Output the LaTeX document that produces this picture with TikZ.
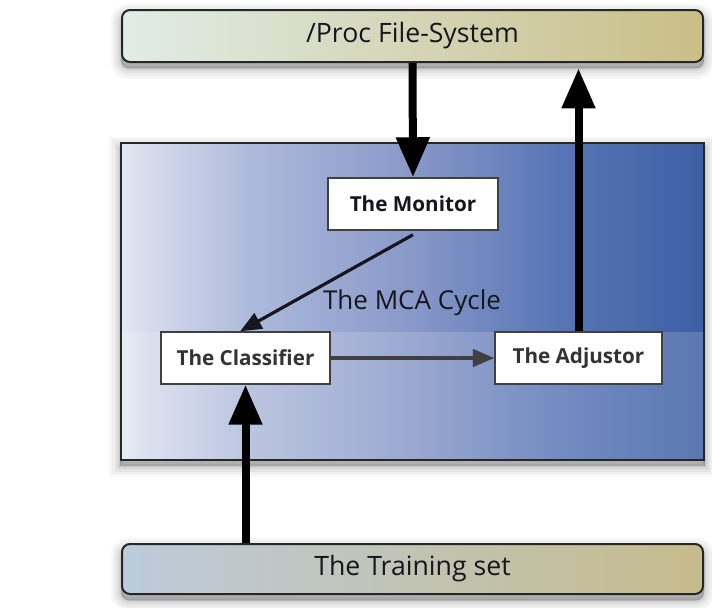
\documentclass[tikz,border=0pt]{standalone}
\usepackage{fontspec}
\setmainfont{Open Sans}
\usetikzlibrary{arrows.meta}
\pgfdeclarelayer{bg}
\pgfdeclarelayer{shadow}
\pgfsetlayers{bg,shadow,main}
\definecolor{ink}{HTML}{16171E}
\definecolor{procL}{HTML}{E0ECE6}
\definecolor{procM}{HTML}{CEC8B0}
\definecolor{procR}{HTML}{C9BE86}
\definecolor{trainL}{HTML}{BCCBDB}
\definecolor{trainM}{HTML}{C2BFB6}
\definecolor{trainR}{HTML}{C6BB8B}
\definecolor{mA}{HTML}{E4E8F2}
\definecolor{mB}{HTML}{D6DCEC}
\definecolor{mC}{HTML}{AEBADB}
\definecolor{mD}{HTML}{8898C8}
\definecolor{mE}{HTML}{5876B6}
\definecolor{mF}{HTML}{3D5FA4}
\pgfdeclarehorizontalshading{mcashade}{100bp}{
  color(0bp)=(mA); color(25bp)=(mA); color(27bp)=(mB);
  color(36bp)=(mC); color(50bp)=(mD); color(62.5bp)=(mE);
  color(75bp)=(mF); color(100bp)=(mF)}
\begin{document}
\begin{tikzpicture}[x=0.75pt,y=-0.75pt,
  bar/.style={draw=black!85, line width=1.5pt, rounded corners=6pt,
    minimum width=435.75pt, inner sep=0pt, text=ink,
    font=\fontsize{20}{24}\selectfont},
  inbox/.style={draw=black!75, fill=white, line width=1.1pt,
    minimum height=39pt, inner sep=0pt,
    font=\bfseries\fontsize{15.5}{18}\selectfont},
  bigarrow/.style={line width=6pt, draw=black,
    -{Triangle[length=30pt,width=24pt]}},
  thinarrow/.style={line width=2.4pt,
    -{Triangle[length=16pt,width=13pt]}},
  softshadow/.style={draw=black, fill=black, draw opacity=#1, fill opacity=#1}
]
\useasboundingbox (0,0) rectangle (712,607);
\begin{pgfonlayer}{bg}
  \fill[white] (0,0) rectangle (712,607);
\end{pgfonlayer}

% outer bars and the cycle box
\node[bar, minimum height=39pt, left color=procL, middle color=procM,
  right color=procR] (proc) at (412.5,36) {/Proc File-System};
\node[draw=black!85, line width=1.5pt, minimum width=437.25pt,
  minimum height=237.75pt, inner sep=0pt, shading=mcashade]
  (mca) at (412.5,301.5) {};
\fill[white, fill opacity=0.16] (122,332) rectangle (703,459);
\node[bar, minimum height=37.5pt, left color=trainL, middle color=trainM,
  right color=trainR] (train) at (412.5,569) {The Training set};

% soft shadows
\begin{pgfonlayer}{shadow}
\foreach \n/\r in {proc/6pt, train/6pt, mca/0pt}{
  \foreach \w/\o in {16pt/0.03, 12pt/0.035, 8pt/0.045, 4pt/0.055, 1pt/0.065}{
    \draw[softshadow=\o, line width=\w, rounded corners=\r]
      ([yshift=-4pt]\n.south west) rectangle ([yshift=-4pt]\n.north east);
  }
}
\end{pgfonlayer}

% inner boxes
\node[inbox, minimum width=127.5pt, text=ink] (mon) at (413,204) {The Monitor};
\node[inbox, minimum width=126.75pt, text=black!80] (cls) at (245.5,358) {The Classifier};
\node[inbox, minimum width=125.25pt, text=black!80] (adj) at (578.5,358) {The Adjustor};
\node[font=\fontsize{19.5}{22}\selectfont, text=ink] (cyc) at (412,303) {The MCA Cycle};

% connectors
\draw[bigarrow] (proc.south) -- (mon.north);
\draw[bigarrow, shorten >=4pt] (adj.north) -- (adj.north |- proc.south);
\draw[bigarrow] (cls.south |- train.north) -- (cls.south);
\draw[thinarrow, draw=ink, fill=ink] ([yshift=-3pt]mon.south) -- ([xshift=-4pt]cls.north);
\draw[thinarrow, draw=black!75, fill=black!75] (cls.east) -- (adj.west);
\end{tikzpicture}
\end{document}
